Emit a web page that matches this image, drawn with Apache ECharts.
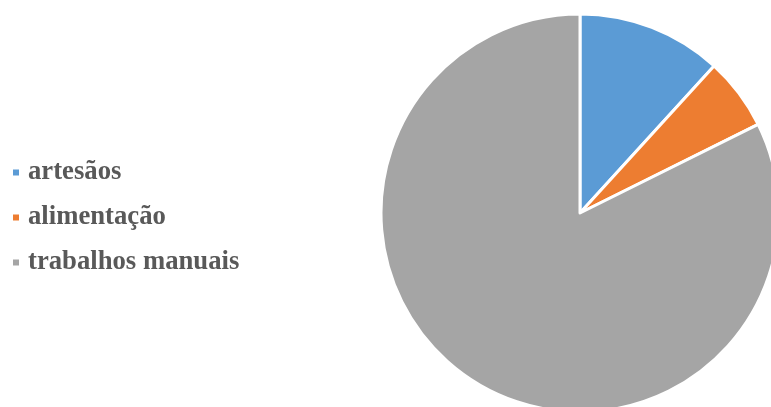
<!DOCTYPE html>
<html><head><meta charset="utf-8">
<script src="https://cdn.jsdelivr.net/npm/echarts@6/dist/echarts.min.js"></script>
<style>html,body{margin:0;padding:0;background:#fff}#c{width:771px;height:407px}</style>
</head><body><div id="c"></div>
<script>
const categories = ['artesãos', 'alimentação', 'trabalhos manuais'];
const values = [2, 1, 14];
const colors = ['#5B9BD5', '#ED7D31', '#A5A5A5'];

const chart = echarts.init(document.getElementById('c'), null, {renderer: 'canvas'});
chart.setOption({
  animation: false,
  color: colors,
  legend: {
    orient: 'vertical',
    left: 6,
    top: 154,
    icon: 'rect',
    itemWidth: 8,
    itemHeight: 8,
    itemGap: 18,
    textStyle: {fontFamily: 'Liberation Serif', fontWeight: 'bold', fontSize: 26.7, color: '#595959', padding: [0, 0, 0, 3]},
    data: categories
  },
  series: [{
    type: 'pie',
    center: [580, 213],
    radius: 199,
    startAngle: 90,
    clockwise: true,
    label: {show: false},
    labelLine: {show: false},
    itemStyle: {borderColor: '#fff', borderWidth: 3},
    data: categories.map((c, i) => ({name: c, value: values[i]}))
  }]
});
</script></body></html>
